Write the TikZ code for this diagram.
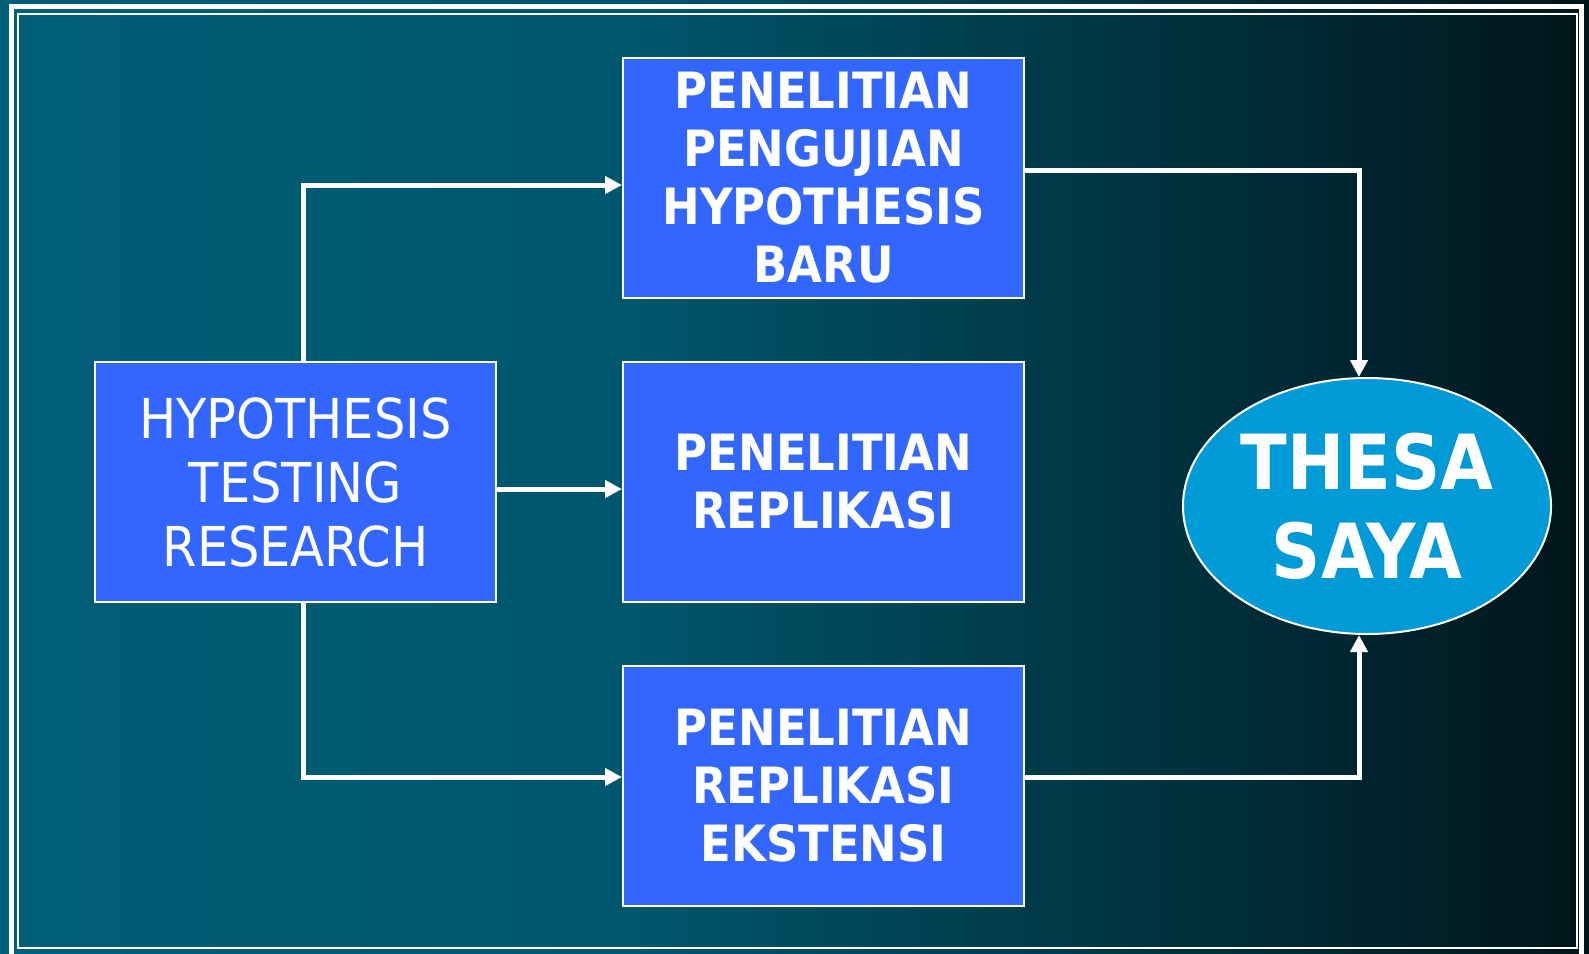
\documentclass[tikz,border=0pt]{standalone}
\usepackage{fontspec}
\setmainfont{DejaVu Sans}
\newfontfamily\sempit{DejaVu Sans Condensed}
\usetikzlibrary{arrows.meta,shapes.geometric}
\definecolor{bgL}{HTML}{005E77}
\definecolor{bgM}{HTML}{00566C}
\definecolor{bgR}{HTML}{00151A}
\definecolor{boxblue}{HTML}{3366FF}
\definecolor{ovalblue}{HTML}{009AD7}
\pgfdeclarehorizontalshading{bgshade}{100bp}{color(0bp)=(bgL); color(25bp)=(bgL); color(45bp)=(bgM); color(75bp)=(bgR); color(100bp)=(bgR)}
\tikzset{
  blok/.style={draw=white, line width=1pt, fill=boxblue, text=white, minimum width=200.5pt, minimum height=120pt, inner sep=0pt, align=center},
  judul/.style={font=\sempit\bfseries\fontsize{25}{29}\selectfont},
  panah/.style={draw=white, line width=2.5pt, -{Triangle[length=8.5pt,width=8.5pt]}},
}

\begin{document}
\begin{tikzpicture}[x=0.5pt,y=-0.5pt]
			%%%%% START %%%%%
			
			\shade[shading=bgshade] (0,0) rectangle (1589,953);
			\useasboundingbox (0,0) rectangle (1589,953);
			
			\draw[white, line width=2.5pt] (11.5,6.5) rectangle (1581,956);
			\draw[white, line width=1pt] (18,14) rectangle (1576.5,948);
			
			\node[blok, font=\sempit\fontsize{27.5}{32}\selectfont] (hyp) at (295.5,482) {HYPOTHESIS\\TESTING\\RESEARCH};
			
			\node[blok, judul] (pbaru) at (823.5,178) {PENELITIAN\\PENGUJIAN\\HYPOTHESIS\\BARU};
			\node[blok, judul] (prep) at (823.5,482) {PENELITIAN\\REPLIKASI};
			\node[blok, judul] (pext) at (823.5,785.5) {PENELITIAN\\REPLIKASI\\EKSTENSI};
			
			\node[ellipse, draw=white, line width=1pt, fill=ovalblue, text=white, minimum width=184pt, minimum height=128pt, inner sep=0pt, align=center, font=\sempit\bfseries\fontsize{38}{44.5}\selectfont] (thesa) at (1367,506) {THESA\\SAYA};
			
			\draw[panah] ([xshift=3.75pt]hyp.north) |- ([yshift=-3.5pt]pbaru.west);
			\draw[panah] ([yshift=-3.5pt]hyp.east) -- ([yshift=-3.5pt]prep.west);
			\draw[panah] ([xshift=3.75pt]hyp.south) |- ([yshift=4.25pt]pext.west);
			
			\draw[panah] ([yshift=4pt]pbaru.east) -| ([xshift=-4pt]thesa.north);
			\draw[panah] ([yshift=4.25pt]pext.east) -| ([xshift=-4pt]thesa.south);
			
			%%%%% END %%%%%
\end{tikzpicture}
\end{document}
